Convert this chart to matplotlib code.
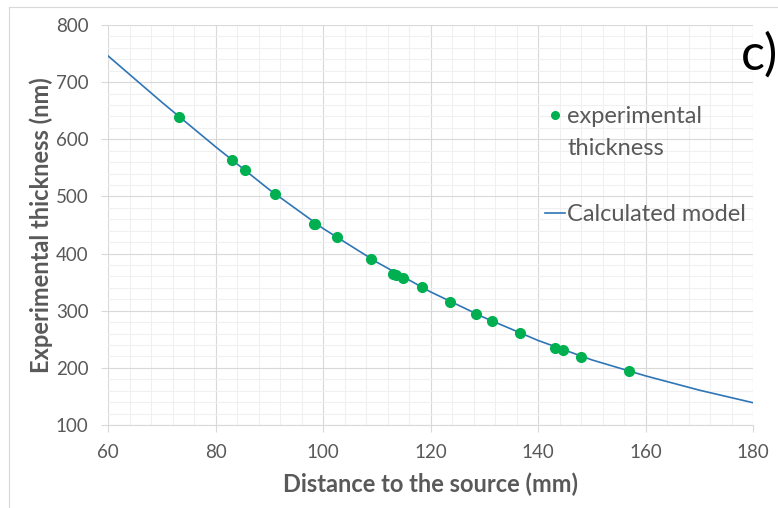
import matplotlib as mpl
import matplotlib.pyplot as plt
from matplotlib.lines import Line2D
from matplotlib.ticker import MultipleLocator

mpl.rc("font", family=["Lato", "DejaVu Sans"])

# Experimental points
distance_mm = [73.2, 83.1, 85.5, 91.1, 98.3, 98.6, 102.6, 108.9, 113.1, 113.5,
               114.8, 118.4, 123.6, 128.5, 131.5, 136.7, 143.2, 144.6, 148.0, 157.0]
thickness_nm = [639, 564, 546, 504, 452, 451, 429, 391, 365, 362,
                357, 341, 316, 294, 282, 261, 235, 231, 219, 195]

# Calculated model curve
model_x = [60, 70, 80, 90, 100, 110, 120, 130, 140, 150, 160, 170, 180]
model_y = [746, 665, 587, 512, 444, 385, 333, 288, 248, 214, 186, 161, 139]

grey = "#595959"
green = "#00b050"
blue = "#2e75b6"

fig = plt.figure(figsize=(7.78, 5.08), dpi=100)
ax = fig.add_axes([108 / 778, 1 - 425 / 508, 645 / 778, 400 / 508])

# light chart-area border (left + top visible)
fig.add_artist(Line2D([9 / 778, 9 / 778], [0, 1 - 7 / 508], color="#d9d9d9", lw=0.8))
fig.add_artist(Line2D([9 / 778, 1], [1 - 7 / 508, 1 - 7 / 508], color="#d9d9d9", lw=0.8))

line, = ax.plot(model_x, model_y, "-", color=blue, lw=1.2, zorder=3)
pts, = ax.plot(distance_mm, thickness_nm, "o", color=green, ms=7, mec=green, zorder=4)

ax.set_xlim(60, 180)
ax.set_ylim(100, 800)
ax.xaxis.set_major_locator(MultipleLocator(20))
ax.xaxis.set_minor_locator(MultipleLocator(4))
ax.yaxis.set_major_locator(MultipleLocator(100))
ax.yaxis.set_minor_locator(MultipleLocator(20))
ax.grid(which="major", color="#d9d9d9", lw=0.8)
ax.grid(which="minor", color="#f0f0f0", lw=0.8)
ax.set_axisbelow(True)

for s in ["top", "right", "left"]:
    ax.spines[s].set_visible(False)
ax.spines["bottom"].set_color("#d9d9d9")
ax.tick_params(which="major", colors="#d9d9d9", labelcolor=grey, labelsize=13.5,
               length=5, width=0.8)
ax.tick_params(which="minor", length=0)
ax.tick_params(axis="x", pad=9)
ax.tick_params(axis="y", pad=9)

ax.set_xlabel("Distance to the source (mm)", fontsize=17, fontweight="bold",
              color=grey, labelpad=8)
ax.set_ylabel("Experimental thickness (nm)", fontsize=17, fontweight="bold",
              color=grey, labelpad=2)

# legend: marker aligned with the first text line, as in the original
blank = Line2D([], [], ls="none")
mk = Line2D([], [], ls="none", marker="o", color=green, ms=5.5)
leg1 = ax.legend([mk, blank], ["experimental", "thickness"], loc="upper left",
                 bbox_to_anchor=(545 / 778, 1 - 106 / 508), bbox_transform=fig.transFigure,
                 frameon=False, fontsize=17, handlelength=0.85, handletextpad=0.1,
                 labelspacing=0.45, borderpad=0, borderaxespad=0)
ax.add_artist(leg1)
leg2 = ax.legend([Line2D([], [], color=blue, lw=1.2)], ["Calculated model"], loc="upper left",
                 bbox_to_anchor=(545 / 778, 1 - 204 / 508), bbox_transform=fig.transFigure,
                 frameon=False, fontsize=17, handlelength=0.85, handletextpad=0.1,
                 borderpad=0, borderaxespad=0)
for lg in (leg1, leg2):
    for t in lg.get_texts():
        t.set_color(grey)

fig.text(741 / 778, 1 - 55 / 508, "c)", fontsize=36, color="black", va="center", ha="left")

fig.savefig("out.png", dpi=100)
